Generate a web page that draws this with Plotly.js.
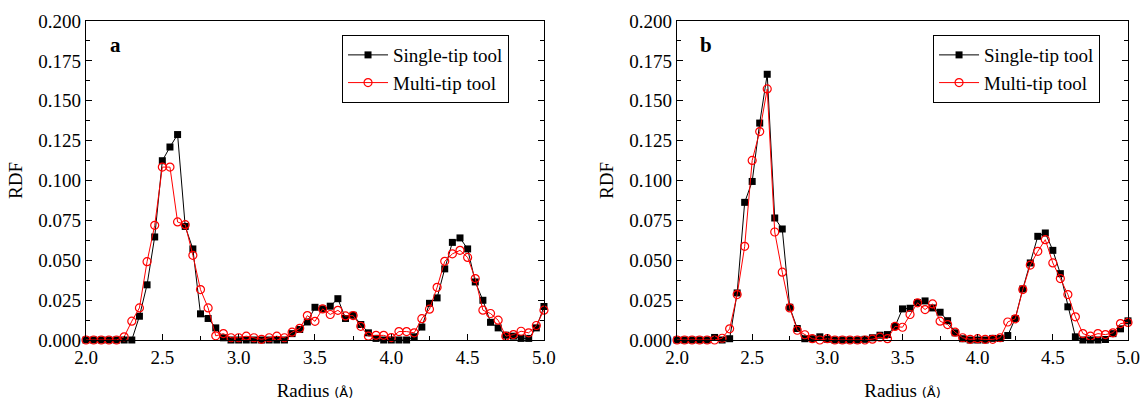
<!DOCTYPE html>
<html>
<head>
<meta charset="utf-8">
<script src="https://cdn.plot.ly/plotly-3.0.1.min.js"></script>
<style>html,body{margin:0;padding:0;background:#fff;}#chart{width:1146px;height:404px;}</style>
</head>
<body>
<div id="chart"></div>
<script>
// Radius values (Å), 2.00 to 5.00 step 0.05
const radius = [2.00,2.05,2.10,2.15,2.20,2.25,2.30,2.35,2.40,2.45,2.50,2.55,2.60,2.65,2.70,2.75,2.80,2.85,2.90,2.95,
3.00,3.05,3.10,3.15,3.20,3.25,3.30,3.35,3.40,3.45,3.50,3.55,3.60,3.65,3.70,3.75,3.80,3.85,3.90,3.95,
4.00,4.05,4.10,4.15,4.20,4.25,4.30,4.35,4.40,4.45,4.50,4.55,4.60,4.65,4.70,4.75,4.80,4.85,4.90,4.95,5.00];

// Panel a
const singleA = [0,0,0,0,0,0,0,0.0149,0.0346,0.0646,0.1124,0.1210,0.1288,0.0712,0.0571,0.0164,0.0135,0.0076,0.0014,0,
0,0,0,0,0,0,0,0.0040,0.0066,0.0113,0.0205,0.0195,0.0212,0.0259,0.0135,0.0155,0.0097,0.0045,0.0010,0,
0,0,0,0.0020,0.0081,0.0230,0.0264,0.0446,0.0612,0.0640,0.0571,0.0364,0.0249,0.0111,0.0076,0.0030,0.0024,0.0010,0.0010,0.0076,0.0210];
const multiA = [0,0,0,0,0,0.0020,0.0118,0.0201,0.0491,0.0719,0.1084,0.1084,0.0740,0.0723,0.0531,0.0316,0.0201,0.0026,0.0040,0.0014,
0.0014,0.0024,0.0014,0.0004,0.0014,0.0024,0.0014,0.0049,0.0073,0.0153,0.0117,0.0195,0.0160,0.0186,0.0151,0.0153,0.0086,0.0024,0.0029,0.0029,
0.0015,0.0053,0.0053,0.0045,0.0134,0.0193,0.0330,0.0493,0.0540,0.0562,0.0518,0.0385,0.0187,0.0166,0.0124,0.0024,0.0034,0.0055,0.0045,0.0091,0.0187];

// Panel b
const singleB = [0,0,0,0,0,0.0016,0,0.0008,0.0295,0.0863,0.0994,0.1360,0.1666,0.0765,0.0696,0.0205,0.0072,0.0008,0.0008,0.0020,
0.0005,0,0,0,0,0.0004,0.0014,0.0030,0.0034,0.0085,0.0195,0.0199,0.0235,0.0245,0.0201,0.0174,0.0121,0.0045,0.0008,0,
0,0,0.0010,0.0010,0.0028,0.0135,0.0320,0.0483,0.0650,0.0671,0.0562,0.0416,0.0208,0.0020,0,0,0,0.0003,0.0040,0.0070,0.0120];
const multiB = [0,0,0,0,0,0,0.0011,0.0070,0.0285,0.0587,0.1126,0.1307,0.1574,0.0677,0.0425,0.0201,0.0061,0.0033,0.0008,0,
0.0008,0,0,0,0,0,0.0005,0.0018,0.0008,0.0085,0.0080,0.0160,0.0233,0.0191,0.0226,0.0118,0.0097,0.0049,0.0014,0.0004,
0.0008,0.0004,0.0004,0.0014,0.0113,0.0133,0.0316,0.0470,0.0556,0.0629,0.0483,0.0385,0.0285,0.0145,0.0040,0.0024,0.0040,0.0034,0.0045,0.0103,0.0110];

const seriesNames = ["Single-tip tool", "Multi-tip tool"];
const panelLabels = ["a", "b"];

const serif = "'Times New Roman', 'Liberation Serif', serif";

function single(y, xa, ya, lg) {
  return {x: radius, y: y, xaxis: xa, yaxis: ya, legend: lg, name: seriesNames[0], type: "scatter",
    mode: "lines+markers", cliponaxis: false,
    line: {color: "#000000", width: 1},
    marker: {symbol: "square", size: 7, color: "#000000"}};
}
function multi(y, xa, ya, lg) {
  return {x: radius, y: y, xaxis: xa, yaxis: ya, legend: lg, name: seriesNames[1], type: "scatter",
    mode: "lines+markers", cliponaxis: false,
    line: {color: "#ff0000", width: 1},
    marker: {symbol: "circle-open", size: 8, color: "#ff0000", line: {width: 1.2, color: "#ff0000"}}};
}

const data = [
  single(singleA, "x", "y", "legend"),
  multi(multiA, "x", "y", "legend"),
  single(singleB, "x2", "y2", "legend2"),
  multi(multiB, "x2", "y2", "legend2")
];

function xax(domain, anchor) {
  return {domain: domain, anchor: anchor, range: [2, 5], tickvals: [2.0,2.5,3.0,3.5,4.0,4.5,5.0], tickformat: ".1f",
    ticks: "inside", ticklen: 6, tickwidth: 1, tickcolor: "#000",
    minor: {dtick: 0.25, tick0: 2, ticks: "inside", ticklen: 4, tickwidth: 1, tickcolor: "#000"},
    showline: true, linecolor: "#000", linewidth: 1.2, mirror: true, showgrid: false, zeroline: false,
    tickfont: {family: serif, size: 19, color: "#000"},
    title: {text: "Radius <span style='font-family:DejaVu Sans, sans-serif;font-size:13px'>(Å)</span>",
      font: {family: serif, size: 19, color: "#000"}, standoff: 16},
    automargin: false};
}
function yax(anchor) {
  return {domain: [0, 1], anchor: anchor, range: [0, 0.2], dtick: 0.025, tickformat: ".3f",
    ticks: "inside", ticklen: 6, tickwidth: 1, tickcolor: "#000",
    minor: {dtick: 0.0125, ticks: "inside", ticklen: 4, tickwidth: 1, tickcolor: "#000"},
    showline: true, linecolor: "#000", linewidth: 1.2, mirror: "ticks", showgrid: false, zeroline: false,
    tickfont: {family: serif, size: 19, color: "#000"},
    title: {text: "RDF", font: {family: serif, size: 19, color: "#000"}, standoff: 10},
    automargin: false};
}

function leg(x) {
  return {x: x, y: 0.956, xanchor: "left", yanchor: "top", bgcolor: "#fff", bordercolor: "#000", borderwidth: 1,
    font: {family: serif, size: 19, color: "#000"}, tracegroupgap: 0, itemwidth: 40};
}

const layout = {
  width: 1146, height: 404,
  margin: {l: 86, r: 18, t: 21, b: 63.5},
  paper_bgcolor: "#fff", plot_bgcolor: "#fff",
  showlegend: true,
  xaxis: xax([0, 0.4395], "y"),
  yaxis: yax("x"),
  xaxis2: xax([0.5672, 1], "y2"),
  yaxis2: yax("x2"),
  legend: leg(0.2457),
  legend2: leg(0.8129),
  annotations: [
    {text: "<b>" + panelLabels[0] + "</b>", xref: "x domain", yref: "y domain", x: 0.064, y: 0.925,
      xanchor: "center", yanchor: "middle",
      showarrow: false, font: {family: serif, size: 21, color: "#000"}},
    {text: "<b>" + panelLabels[1] + "</b>", xref: "x2 domain", yref: "y2 domain", x: 0.064, y: 0.925,
      xanchor: "center", yanchor: "middle",
      showarrow: false, font: {family: serif, size: 21, color: "#000"}}
  ]
};

Plotly.newPlot("chart", data, layout, {displayModeBar: false, staticPlot: true});
</script>
</body>
</html>
